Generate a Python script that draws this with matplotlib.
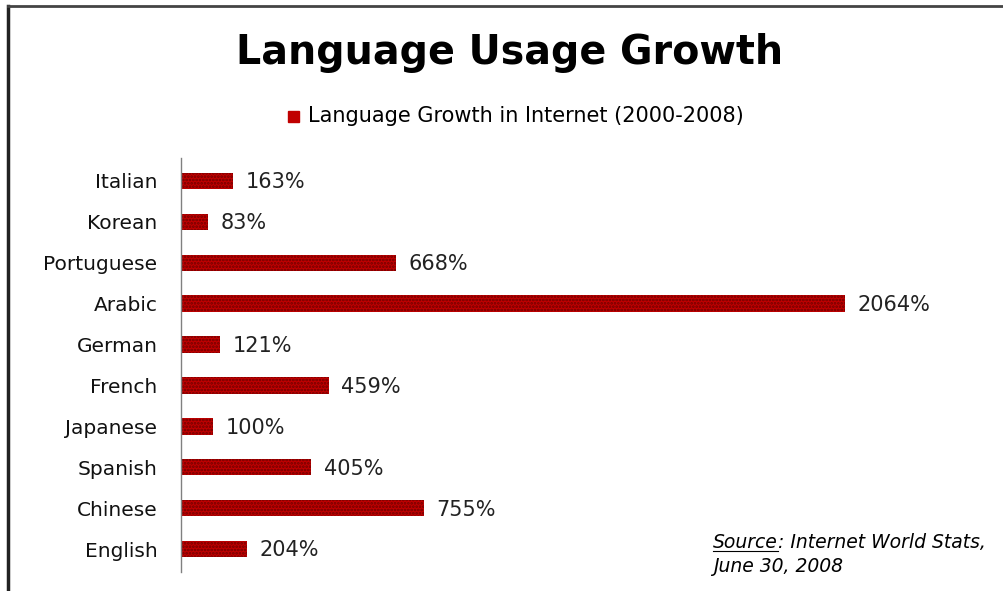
import matplotlib.pyplot as plt
from matplotlib.lines import Line2D

languages = ["Italian", "Korean", "Portuguese", "Arabic", "German",
             "French", "Japanese", "Spanish", "Chinese", "English"]
growth = [163, 83, 668, 2064, 121, 459, 100, 405, 755, 204]
value_labels = [f"{v}%" for v in growth]

plt.rcParams['font.family'] = ['DejaVu Sans']
plt.rcParams['hatch.linewidth'] = 1.3
plt.rcParams['hatch.color'] = '#700000'

fig = plt.figure(figsize=(10.04, 5.91), dpi=100)
W, H = 1004, 591

# axes: x=181 -> 0, px per unit from the Arabic bar end
x0 = 181
scale = (845 - 181) / 2064
xmax = 2500
ax = fig.add_axes([x0 / W, (H - 572) / H, xmax * scale / W, (572 - 158) / H])

ypos = list(range(len(languages)))
ax.barh(ypos, growth, height=0.4, color='#c00000', edgecolor='#700000',
        linewidth=0, hatch='.....')
ax.set_xlim(0, xmax)
ax.set_ylim(len(languages) - 0.44, -0.56)
ax.set_yticks(ypos)
ax.set_yticklabels(languages, fontsize=14.5, color='#111111')
ax.tick_params(axis='y', length=0, pad=17)
ax.set_xticks([])
for s in ['top', 'right', 'bottom']:
    ax.spines[s].set_visible(False)
ax.spines['left'].set_color('#808080')
ax.spines['left'].set_linewidth(1)

for y, v, lab in zip(ypos, growth, value_labels):
    ax.annotate(lab, (v, y), xytext=(9, -1), textcoords='offset points',
                va='center', ha='left', fontsize=15, color='#222222')

fig.text(510 / W, 1 - 53 / H, "Language Usage Growth", ha='center', va='center',
         fontsize=28.5, fontweight='bold')

# legend
fig.patches.append(plt.Rectangle((288 / W, 1 - 122 / H), 11 / W, 11 / H,
                                 transform=fig.transFigure, color='#c00000'))
fig.text(308 / W, 1 - 116 / H, "Language Growth in Internet (2000-2008)",
         ha='left', va='center', fontsize=15)

# source note
src = fig.text(713 / W, 1 - 542 / H, "Source", ha='left', va='center',
               fontsize=13.5, style='italic')
fig.canvas.draw()
bb = src.get_window_extent()
fig.text(bb.x1 / W, 1 - 542 / H, ": Internet World Stats,", ha='left',
         va='center', fontsize=13.5, style='italic')
fig.lines.append(Line2D([bb.x0 / W, bb.x1 / W], [(bb.y0 + 1) / H] * 2,
                        transform=fig.transFigure, color='black', lw=0.8))
fig.text(713 / W, 1 - 566 / H, "June 30, 2008", ha='left', va='center',
         fontsize=13.5, style='italic')

# frame lines (left and top)
fig.lines.append(Line2D([8 / W, 8 / W], [0, 1 - 6 / H], transform=fig.transFigure,
                        color='#222222', lw=2.5))
fig.lines.append(Line2D([8 / W, 1], [1 - 6 / H, 1 - 6 / H], transform=fig.transFigure,
                        color='#444444', lw=2))

fig.savefig("out.png", dpi=100)
